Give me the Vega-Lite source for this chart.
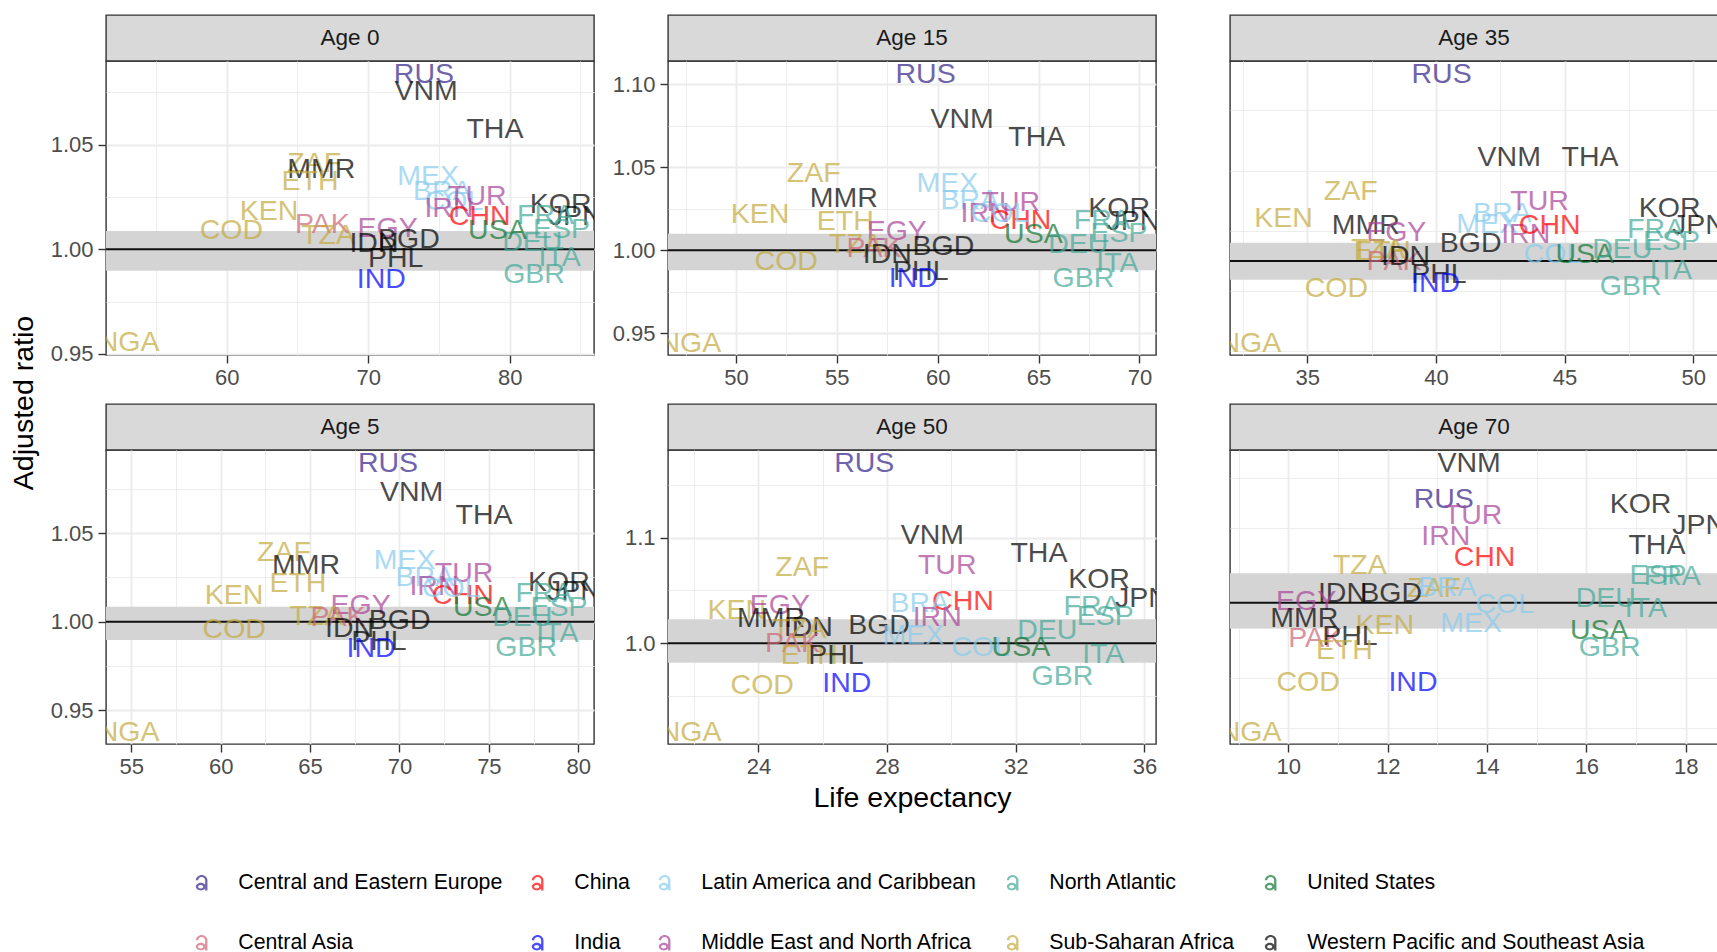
{
  "$schema": "https://vega.github.io/schema/vega-lite/v6.json",
  "padding": {"left": 9, "top": 14, "right": 0, "bottom": 0},
  "background": "white",
  "spacing": 6,
  "config": {
    "font": "Liberation Sans",
    "view": {"stroke": "#333333", "strokeWidth": 1.4},
    "axis": {"domain": false, "gridColor": "#ebebeb", "tickColor": "#333333", "tickWidth": 1.4, "tickSize": 8,
      "labelFont": "Liberation Sans", "labelFontSize": 22, "labelColor": "#4d4d4d",
      "titleFont": "Liberation Sans", "titleFontSize": 28.5, "titleColor": "#000000", "titleFontWeight": "normal",
      "labelOverlap": false, "labelFlush": false},
    "axisX": {"labelPadding": 4},
    "axisY": {"labelPadding": 5, "minExtent": 60, "maxExtent": 60}
  },
  "datasets": {
    "countries": [
      {"iso": "RUS", "region": "Central and Eastern Europe"},
      {"iso": "CHN", "region": "China"},
      {"iso": "MEX", "region": "Latin America and Caribbean"},
      {"iso": "BRA", "region": "Latin America and Caribbean"},
      {"iso": "COL", "region": "Latin America and Caribbean"},
      {"iso": "FRA", "region": "North Atlantic"},
      {"iso": "ESP", "region": "North Atlantic"},
      {"iso": "DEU", "region": "North Atlantic"},
      {"iso": "ITA", "region": "North Atlantic"},
      {"iso": "GBR", "region": "North Atlantic"},
      {"iso": "USA", "region": "United States"},
      {"iso": "PAK", "region": "Central Asia"},
      {"iso": "IND", "region": "India"},
      {"iso": "TUR", "region": "Middle East and North Africa"},
      {"iso": "IRN", "region": "Middle East and North Africa"},
      {"iso": "EGY", "region": "Middle East and North Africa"},
      {"iso": "ZAF", "region": "Sub-Saharan Africa"},
      {"iso": "ETH", "region": "Sub-Saharan Africa"},
      {"iso": "KEN", "region": "Sub-Saharan Africa"},
      {"iso": "COD", "region": "Sub-Saharan Africa"},
      {"iso": "TZA", "region": "Sub-Saharan Africa"},
      {"iso": "NGA", "region": "Sub-Saharan Africa"},
      {"iso": "VNM", "region": "Western Pacific and Southeast Asia"},
      {"iso": "THA", "region": "Western Pacific and Southeast Asia"},
      {"iso": "MMR", "region": "Western Pacific and Southeast Asia"},
      {"iso": "IDN", "region": "Western Pacific and Southeast Asia"},
      {"iso": "BGD", "region": "Western Pacific and Southeast Asia"},
      {"iso": "PHL", "region": "Western Pacific and Southeast Asia"},
      {"iso": "KOR", "region": "Western Pacific and Southeast Asia"},
      {"iso": "JPN", "region": "Western Pacific and Southeast Asia"}
    ],
    "bands": [
      {"age": "Age 0", "lo": 0.9898, "hi": 1.0087},
      {"age": "Age 15", "lo": 0.988, "hi": 1.010},
      {"age": "Age 35", "lo": 0.9845, "hi": 1.0152},
      {"age": "Age 5", "lo": 0.9897, "hi": 1.0085},
      {"age": "Age 50", "lo": 0.9816, "hi": 1.0227},
      {"age": "Age 70", "lo": 0.9744, "hi": 1.0294}
    ],
    "pts": [
      {"age": "Age 0", "iso": "RUS", "le": 73.94, "ratio": 1.084},
      {"age": "Age 0", "iso": "VNM", "le": 74.09, "ratio": 1.0759},
      {"age": "Age 0", "iso": "THA", "le": 78.96, "ratio": 1.0575},
      {"age": "Age 0", "iso": "ZAF", "le": 66.19, "ratio": 1.0413},
      {"age": "Age 0", "iso": "MMR", "le": 66.69, "ratio": 1.0384},
      {"age": "Age 0", "iso": "ETH", "le": 65.89, "ratio": 1.0325},
      {"age": "Age 0", "iso": "MEX", "le": 74.23, "ratio": 1.0352},
      {"age": "Age 0", "iso": "BRA", "le": 75.24, "ratio": 1.0281},
      {"age": "Age 0", "iso": "COL", "le": 76.06, "ratio": 1.0233},
      {"age": "Age 0", "iso": "TUR", "le": 77.71, "ratio": 1.0257},
      {"age": "Age 0", "iso": "IRN", "le": 75.71, "ratio": 1.0198},
      {"age": "Age 0", "iso": "CHN", "le": 77.88, "ratio": 1.0159},
      {"age": "Age 0", "iso": "KOR", "le": 83.6, "ratio": 1.0219},
      {"age": "Age 0", "iso": "JPN", "le": 84.66, "ratio": 1.0159},
      {"age": "Age 0", "iso": "FRA", "le": 82.54, "ratio": 1.0162},
      {"age": "Age 0", "iso": "ESP", "le": 83.67, "ratio": 1.0099},
      {"age": "Age 0", "iso": "DEU", "le": 81.6, "ratio": 1.0035},
      {"age": "Age 0", "iso": "ITA", "le": 83.53, "ratio": 0.9963},
      {"age": "Age 0", "iso": "GBR", "le": 81.72, "ratio": 0.9884},
      {"age": "Age 0", "iso": "USA", "le": 79.13, "ratio": 1.009},
      {"age": "Age 0", "iso": "KEN", "le": 62.99, "ratio": 1.0182},
      {"age": "Age 0", "iso": "PAK", "le": 66.76, "ratio": 1.0122},
      {"age": "Age 0", "iso": "TZA", "le": 67.16, "ratio": 1.0067},
      {"age": "Age 0", "iso": "COD", "le": 60.33, "ratio": 1.0092},
      {"age": "Age 0", "iso": "EGY", "le": 71.38, "ratio": 1.0103},
      {"age": "Age 0", "iso": "IDN", "le": 70.41, "ratio": 1.0032},
      {"age": "Age 0", "iso": "BGD", "le": 72.88, "ratio": 1.0048},
      {"age": "Age 0", "iso": "PHL", "le": 71.94, "ratio": 0.996},
      {"age": "Age 0", "iso": "IND", "le": 70.93, "ratio": 0.9857},
      {"age": "Age 0", "iso": "NGA", "le": 53.07, "ratio": 0.9556},

      {"age": "Age 15", "iso": "RUS", "le": 59.4, "ratio": 1.1059},
      {"age": "Age 15", "iso": "VNM", "le": 61.21, "ratio": 1.0788},
      {"age": "Age 15", "iso": "THA", "le": 64.91, "ratio": 1.068},
      {"age": "Age 15", "iso": "ZAF", "le": 53.85, "ratio": 1.0467},
      {"age": "Age 15", "iso": "MMR", "le": 55.34, "ratio": 1.0317},
      {"age": "Age 15", "iso": "KEN", "le": 51.19, "ratio": 1.0217},
      {"age": "Age 15", "iso": "ETH", "le": 55.42, "ratio": 1.0178},
      {"age": "Age 15", "iso": "MEX", "le": 60.48, "ratio": 1.0407},
      {"age": "Age 15", "iso": "BRA", "le": 61.59, "ratio": 1.0304},
      {"age": "Age 15", "iso": "TUR", "le": 63.62, "ratio": 1.0292},
      {"age": "Age 15", "iso": "IRN", "le": 62.35, "ratio": 1.0226},
      {"age": "Age 15", "iso": "CHN", "le": 64.1, "ratio": 1.0182},
      {"age": "Age 15", "iso": "COL", "le": 63.09, "ratio": 1.0224},
      {"age": "Age 15", "iso": "USA", "le": 64.74, "ratio": 1.0096},
      {"age": "Age 15", "iso": "KOR", "le": 68.99, "ratio": 1.0256},
      {"age": "Age 15", "iso": "JPN", "le": 69.7, "ratio": 1.0178},
      {"age": "Age 15", "iso": "FRA", "le": 68.16, "ratio": 1.0182},
      {"age": "Age 15", "iso": "ESP", "le": 68.99, "ratio": 1.0106},
      {"age": "Age 15", "iso": "DEU", "le": 66.97, "ratio": 1.0036},
      {"age": "Age 15", "iso": "ITA", "le": 68.91, "ratio": 0.9925},
      {"age": "Age 15", "iso": "GBR", "le": 67.22, "ratio": 0.9835},
      {"age": "Age 15", "iso": "EGY", "le": 57.97, "ratio": 1.0116},
      {"age": "Age 15", "iso": "TZA", "le": 55.93, "ratio": 1.0036},
      {"age": "Age 15", "iso": "PAK", "le": 56.84, "ratio": 1.0016},
      {"age": "Age 15", "iso": "IDN", "le": 57.5, "ratio": 0.9976},
      {"age": "Age 15", "iso": "BGD", "le": 60.28, "ratio": 1.0026},
      {"age": "Age 15", "iso": "PHL", "le": 59.16, "ratio": 0.9875},
      {"age": "Age 15", "iso": "IND", "le": 58.79, "ratio": 0.9835},
      {"age": "Age 15", "iso": "COD", "le": 52.49, "ratio": 0.9937},
      {"age": "Age 15", "iso": "NGA", "le": 47.74, "ratio": 0.944},

      {"age": "Age 35", "iso": "RUS", "le": 40.22, "ratio": 1.1551},
      {"age": "Age 35", "iso": "VNM", "le": 42.85, "ratio": 1.0861},
      {"age": "Age 35", "iso": "THA", "le": 45.99, "ratio": 1.0861},
      {"age": "Age 35", "iso": "ZAF", "le": 36.69, "ratio": 1.0581},
      {"age": "Age 35", "iso": "KEN", "le": 34.08, "ratio": 1.036},
      {"age": "Age 35", "iso": "MMR", "le": 37.28, "ratio": 1.0299},
      {"age": "Age 35", "iso": "EGY", "le": 38.46, "ratio": 1.0241},
      {"age": "Age 35", "iso": "TZA", "le": 37.75, "ratio": 1.0097},
      {"age": "Age 35", "iso": "ETH", "le": 37.92, "ratio": 1.0083},
      {"age": "Age 35", "iso": "PAK", "le": 38.37, "ratio": 1.0},
      {"age": "Age 35", "iso": "IDN", "le": 38.82, "ratio": 1.0042},
      {"age": "Age 35", "iso": "BGD", "le": 41.35, "ratio": 1.0152},
      {"age": "Age 35", "iso": "PHL", "le": 40.12, "ratio": 0.9889},
      {"age": "Age 35", "iso": "IND", "le": 39.99, "ratio": 0.982},
      {"age": "Age 35", "iso": "COD", "le": 36.13, "ratio": 0.9778},
      {"age": "Age 35", "iso": "BRA", "le": 42.58, "ratio": 1.0401},
      {"age": "Age 35", "iso": "MEX", "le": 41.99, "ratio": 1.0305},
      {"age": "Age 35", "iso": "TUR", "le": 44.03, "ratio": 1.0498},
      {"age": "Age 35", "iso": "IRN", "le": 43.49, "ratio": 1.0222},
      {"age": "Age 35", "iso": "CHN", "le": 44.42, "ratio": 1.0299},
      {"age": "Age 35", "iso": "COL", "le": 44.55, "ratio": 1.0055},
      {"age": "Age 35", "iso": "USA", "le": 45.78, "ratio": 1.0055},
      {"age": "Age 35", "iso": "DEU", "le": 47.24, "ratio": 1.0097},
      {"age": "Age 35", "iso": "KOR", "le": 49.08, "ratio": 1.0437},
      {"age": "Age 35", "iso": "JPN", "le": 50.22, "ratio": 1.0299},
      {"age": "Age 35", "iso": "FRA", "le": 48.54, "ratio": 1.0263},
      {"age": "Age 35", "iso": "ESP", "le": 49.15, "ratio": 1.0166},
      {"age": "Age 35", "iso": "ITA", "le": 49.13, "ratio": 0.9925},
      {"age": "Age 35", "iso": "GBR", "le": 47.57, "ratio": 0.9792},
      {"age": "Age 35", "iso": "NGA", "le": 32.79, "ratio": 0.9316},

      {"age": "Age 5", "iso": "RUS", "le": 69.36, "ratio": 1.0893},
      {"age": "Age 5", "iso": "VNM", "le": 70.68, "ratio": 1.0733},
      {"age": "Age 5", "iso": "THA", "le": 74.73, "ratio": 1.0601},
      {"age": "Age 5", "iso": "ZAF", "le": 63.54, "ratio": 1.0395},
      {"age": "Age 5", "iso": "MMR", "le": 64.77, "ratio": 1.032},
      {"age": "Age 5", "iso": "ETH", "le": 64.32, "ratio": 1.0216},
      {"age": "Age 5", "iso": "KEN", "le": 60.74, "ratio": 1.015},
      {"age": "Age 5", "iso": "MEX", "le": 70.29, "ratio": 1.0346},
      {"age": "Age 5", "iso": "BRA", "le": 71.41, "ratio": 1.0254},
      {"age": "Age 5", "iso": "TUR", "le": 73.61, "ratio": 1.0273},
      {"age": "Age 5", "iso": "IRN", "le": 71.93, "ratio": 1.02},
      {"age": "Age 5", "iso": "CHN", "le": 73.55, "ratio": 1.015},
      {"age": "Age 5", "iso": "COL", "le": 72.9, "ratio": 1.019},
      {"age": "Age 5", "iso": "USA", "le": 74.63, "ratio": 1.0085},
      {"age": "Age 5", "iso": "KOR", "le": 78.92, "ratio": 1.0225},
      {"age": "Age 5", "iso": "JPN", "le": 79.76, "ratio": 1.0175},
      {"age": "Age 5", "iso": "FRA", "le": 78.08, "ratio": 1.016},
      {"age": "Age 5", "iso": "ESP", "le": 78.92, "ratio": 1.0085},
      {"age": "Age 5", "iso": "DEU", "le": 76.87, "ratio": 1.0028},
      {"age": "Age 5", "iso": "ITA", "le": 78.83, "ratio": 0.9935},
      {"age": "Age 5", "iso": "GBR", "le": 77.09, "ratio": 0.9859},
      {"age": "Age 5", "iso": "EGY", "le": 67.83, "ratio": 1.0094},
      {"age": "Age 5", "iso": "TZA", "le": 65.35, "ratio": 1.0034},
      {"age": "Age 5", "iso": "PAK", "le": 66.56, "ratio": 1.0028},
      {"age": "Age 5", "iso": "IDN", "le": 67.21, "ratio": 0.9963},
      {"age": "Age 5", "iso": "BGD", "le": 70.01, "ratio": 1.001},
      {"age": "Age 5", "iso": "PHL", "le": 68.85, "ratio": 0.9893},
      {"age": "Age 5", "iso": "IND", "le": 68.41, "ratio": 0.985},
      {"age": "Age 5", "iso": "COD", "le": 60.76, "ratio": 0.9959},
      {"age": "Age 5", "iso": "NGA", "le": 54.85, "ratio": 0.938},

      {"age": "Age 50", "iso": "RUS", "le": 27.29, "ratio": 1.1705},
      {"age": "Age 50", "iso": "VNM", "le": 29.41, "ratio": 1.1023},
      {"age": "Age 50", "iso": "THA", "le": 32.72, "ratio": 1.0855},
      {"age": "Age 50", "iso": "TUR", "le": 29.87, "ratio": 1.0741},
      {"age": "Age 50", "iso": "KOR", "le": 34.59, "ratio": 1.0609},
      {"age": "Age 50", "iso": "JPN", "le": 35.92, "ratio": 1.0426},
      {"age": "Age 50", "iso": "ZAF", "le": 25.36, "ratio": 1.0725},
      {"age": "Age 50", "iso": "CHN", "le": 30.36, "ratio": 1.0403},
      {"age": "Age 50", "iso": "BRA", "le": 29.02, "ratio": 1.0379},
      {"age": "Age 50", "iso": "IRN", "le": 29.56, "ratio": 1.0252},
      {"age": "Age 50", "iso": "FRA", "le": 34.37, "ratio": 1.0353},
      {"age": "Age 50", "iso": "ESP", "le": 34.78, "ratio": 1.0259},
      {"age": "Age 50", "iso": "DEU", "le": 32.98, "ratio": 1.0126},
      {"age": "Age 50", "iso": "KEN", "le": 23.33, "ratio": 1.0315},
      {"age": "Age 50", "iso": "EGY", "le": 24.67, "ratio": 1.0363},
      {"age": "Age 50", "iso": "MMR", "le": 24.39, "ratio": 1.0237},
      {"age": "Age 50", "iso": "IDN", "le": 25.55, "ratio": 1.0157},
      {"age": "Age 50", "iso": "TZA", "le": 25.27, "ratio": 1.0135},
      {"age": "Age 50", "iso": "BGD", "le": 27.75, "ratio": 1.0173},
      {"age": "Age 50", "iso": "MEX", "le": 28.82, "ratio": 1.0079},
      {"age": "Age 50", "iso": "PAK", "le": 25.06, "ratio": 1.0},
      {"age": "Age 50", "iso": "ETH", "le": 25.58, "ratio": 0.9889},
      {"age": "Age 50", "iso": "PHL", "le": 26.41, "ratio": 0.9889},
      {"age": "Age 50", "iso": "IND", "le": 26.75, "ratio": 0.9621},
      {"age": "Age 50", "iso": "COD", "le": 24.12, "ratio": 0.9602},
      {"age": "Age 50", "iso": "COL", "le": 30.91, "ratio": 0.9962},
      {"age": "Age 50", "iso": "USA", "le": 32.16, "ratio": 0.9968},
      {"age": "Age 50", "iso": "ITA", "le": 34.72, "ratio": 0.9899},
      {"age": "Age 50", "iso": "GBR", "le": 33.45, "ratio": 0.9693},
      {"age": "Age 50", "iso": "NGA", "le": 21.89, "ratio": 0.9163},

      {"age": "Age 70", "iso": "VNM", "le": 13.64, "ratio": 1.1394},
      {"age": "Age 70", "iso": "RUS", "le": 13.13, "ratio": 1.1037},
      {"age": "Age 70", "iso": "TUR", "le": 13.72, "ratio": 1.0874},
      {"age": "Age 70", "iso": "IRN", "le": 13.17, "ratio": 1.0664},
      {"age": "Age 70", "iso": "CHN", "le": 13.95, "ratio": 1.046},
      {"age": "Age 70", "iso": "KOR", "le": 17.09, "ratio": 1.099},
      {"age": "Age 70", "iso": "JPN", "le": 18.27, "ratio": 1.0777},
      {"age": "Age 70", "iso": "THA", "le": 17.42, "ratio": 1.0577},
      {"age": "Age 70", "iso": "ESP", "le": 17.44, "ratio": 1.0277},
      {"age": "Age 70", "iso": "FRA", "le": 17.73, "ratio": 1.027},
      {"age": "Age 70", "iso": "DEU", "le": 16.39, "ratio": 1.0044},
      {"age": "Age 70", "iso": "ITA", "le": 17.2, "ratio": 0.9944},
      {"age": "Age 70", "iso": "USA", "le": 16.26, "ratio": 0.9727},
      {"age": "Age 70", "iso": "GBR", "le": 16.47, "ratio": 0.956},
      {"age": "Age 70", "iso": "TZA", "le": 11.44, "ratio": 1.0377},
      {"age": "Age 70", "iso": "ZAF", "le": 12.93, "ratio": 1.0144},
      {"age": "Age 70", "iso": "BRA", "le": 13.2, "ratio": 1.016},
      {"age": "Age 70", "iso": "IDN", "le": 11.09, "ratio": 1.0094},
      {"age": "Age 70", "iso": "BGD", "le": 12.07, "ratio": 1.0094},
      {"age": "Age 70", "iso": "EGY", "le": 10.36, "ratio": 1.0017},
      {"age": "Age 70", "iso": "COL", "le": 14.36, "ratio": 0.9987},
      {"age": "Age 70", "iso": "MMR", "le": 10.32, "ratio": 0.9843},
      {"age": "Age 70", "iso": "KEN", "le": 11.94, "ratio": 0.9777},
      {"age": "Age 70", "iso": "MEX", "le": 13.68, "ratio": 0.9793},
      {"age": "Age 70", "iso": "PAK", "le": 10.55, "ratio": 0.9643},
      {"age": "Age 70", "iso": "PHL", "le": 11.24, "ratio": 0.967},
      {"age": "Age 70", "iso": "ETH", "le": 11.13, "ratio": 0.9527},
      {"age": "Age 70", "iso": "COD", "le": 10.4, "ratio": 0.921},
      {"age": "Age 70", "iso": "IND", "le": 12.51, "ratio": 0.9204},
      {"age": "Age 70", "iso": "NGA", "le": 9.24, "ratio": 0.871}
    ]
  },
  "hconcat": [
    {"data": {"values": [{"t": "Adjusted ratio"}]}, "width": 30, "height": 776, "view": {"stroke": null},
     "mark": {"type": "text", "angle": 270, "fontSize": 28.5, "color": "#000000", "align": "center", "baseline": "middle"},
     "encoding": {"text": {"field": "t"}}},
    {"columns": 3, "spacing": {"row": 14, "column": 11},
     "concat": [
    {"vconcat": [
      {"data": {"values": [{"age": "Age 0"}]}, "width": 488, "height": 46,
       "view": {"fill": "#d9d9d9", "stroke": "#333333", "strokeWidth": 1.4},
       "mark": {"type": "text", "fontSize": 22.5, "color": "#1a1a1a", "baseline": "middle"},
       "encoding": {"text": {"field": "age"}}},
      {"width": 488, "height": 294, "layer": [
        {"data": {"name": "bands"}, "transform": [{"filter": "datum.age === 'Age 0'"}],
         "mark": {"type": "rect", "color": "#d4d4d4"},
         "encoding": {"y": {"field": "lo", "type": "quantitative", "scale": {"domain": [0.9495, 1.09], "nice": false, "zero": false}, "axis": {"title": null}}, "y2": {"field": "hi"}}},
        {"data": {"name": "bands"}, "transform": [{"filter": "datum.age === 'Age 0'"}],
         "mark": {"type": "rule", "color": "#111111", "strokeWidth": 2},
         "encoding": {"y": {"datum": 1, "type": "quantitative", "scale": {"domain": [0.9495, 1.09], "nice": false, "zero": false}, "axis": {"title": null}}}},
        {"data": {"name": "pts"}, "transform": [{"filter": "datum.age === 'Age 0'"}, {"lookup": "iso", "from": {"data": {"name": "countries"}, "key": "iso", "fields": ["region"]}}],
         "mark": {"type": "text", "fontSize": 28.5, "opacity": 0.7, "clip": true, "align": "center", "baseline": "middle"},
         "encoding": {
          "x": {"field": "le", "type": "quantitative", "scale": {"domain": [51.47, 85.96], "nice": false, "zero": false},
            "axis": {"title": null, "values": [55, 60, 65, 70, 75, 80, 85],
              "labelExpr": "indexof([60,70,80], datum.value) >= 0 ? datum.label : ''",
              "gridWidth": {"condition": {"test": "indexof([60,70,80], datum.value) >= 0", "value": 1.8}, "value": 0.9},
              "tickOpacity": {"condition": {"test": "indexof([60,70,80], datum.value) >= 0", "value": 1}, "value": 0}}},
          "y": {"field": "ratio", "type": "quantitative", "scale": {"domain": [0.9495, 1.09], "nice": false, "zero": false},
            "axis": {"title": null, "format": ".2f",
              "values": [0.95, 0.975, 1, 1.025, 1.05, 1.075],
              "labelExpr": "indexof([0.95,1,1.05], datum.value) >= 0 ? datum.label : ''",
              "gridWidth": {"condition": {"test": "indexof([0.95,1,1.05], datum.value) >= 0", "value": 1.8}, "value": 0.9},
              "tickOpacity": {"condition": {"test": "indexof([0.95,1,1.05], datum.value) >= 0", "value": 1}, "value": 0}}},
          "text": {"field": "iso"},
          "color": {"field": "region", "type": "nominal",
            "scale": {"domain": ["Central and Eastern Europe", "China", "Latin America and Caribbean", "North Atlantic", "United States", "Central Asia", "India", "Middle East and North Africa", "Sub-Saharan Africa", "Western Pacific and Southeast Asia"],
              "range": ["#332288", "#ff0000", "#88ccee", "#44aa99", "#117733", "#cc6677", "#0000ff", "#aa4499", "#c4ab3e", "#000000"]},
            "legend": {"title": null, "orient": "none", "legendX": 182, "legendY": 857, "direction": "horizontal", "columns": 5,
              "symbolType": "M-0.75,-0.3A0.75,0.7 0 0 1 0.75,-0.3L0.45,-0.3A0.45,0.42 0 0 0 -0.45,-0.3Z M0.45,-0.35L0.75,-0.35L0.75,1L0.45,1Z M-0.75,0.5A0.65,0.5 0 1 1 0.55,0.5A0.65,0.5 0 1 1 -0.75,0.5Z M-0.45,0.52A0.325,0.22 0 1 0 0.2,0.52A0.325,0.22 0 1 0 -0.45,0.52Z",
              "symbolSize": 240, "symbolStrokeWidth": 0, "labelFont": "Liberation Sans", "labelFontSize": 21.3, "labelColor": "#000000",
              "labelOffset": 26, "columnPadding": 24, "rowPadding": 38, "labelLimit": 400, "padding": 0}}
         }}
      ]}
    ], "spacing": 0, "bounds": "flush"},

    {"vconcat": [
      {"data": {"values": [{"age": "Age 15"}]}, "width": 488, "height": 46,
       "view": {"fill": "#d9d9d9", "stroke": "#333333", "strokeWidth": 1.4},
       "mark": {"type": "text", "fontSize": 22.5, "color": "#1a1a1a", "baseline": "middle"},
       "encoding": {"text": {"field": "age"}}},
      {"width": 488, "height": 294, "layer": [
        {"data": {"name": "bands"}, "transform": [{"filter": "datum.age === 'Age 15'"}],
         "mark": {"type": "rect", "color": "#d4d4d4"},
         "encoding": {"y": {"field": "lo", "type": "quantitative", "scale": {"domain": [0.937, 1.1139], "nice": false, "zero": false}, "axis": {"title": null}}, "y2": {"field": "hi"}}},
        {"data": {"name": "bands"}, "transform": [{"filter": "datum.age === 'Age 15'"}],
         "mark": {"type": "rule", "color": "#111111", "strokeWidth": 2},
         "encoding": {"y": {"datum": 1, "type": "quantitative", "scale": {"domain": [0.937, 1.1139], "nice": false, "zero": false}, "axis": {"title": null}}}},
        {"data": {"name": "pts"}, "transform": [{"filter": "datum.age === 'Age 15'"}, {"lookup": "iso", "from": {"data": {"name": "countries"}, "key": "iso", "fields": ["region"]}}],
         "mark": {"type": "text", "fontSize": 28.5, "opacity": 0.7, "clip": true, "align": "center", "baseline": "middle"},
         "encoding": {
          "x": {"field": "le", "type": "quantitative", "scale": {"domain": [46.63, 70.82], "nice": false, "zero": false},
            "axis": {"title": null, "values": [47.5, 50, 52.5, 55, 57.5, 60, 62.5, 65, 67.5, 70],
              "labelExpr": "indexof([50,55,60,65,70], datum.value) >= 0 ? datum.label : ''",
              "gridWidth": {"condition": {"test": "indexof([50,55,60,65,70], datum.value) >= 0", "value": 1.8}, "value": 0.9},
              "tickOpacity": {"condition": {"test": "indexof([50,55,60,65,70], datum.value) >= 0", "value": 1}, "value": 0}}},
          "y": {"field": "ratio", "type": "quantitative", "scale": {"domain": [0.937, 1.1139], "nice": false, "zero": false},
            "axis": {"title": null, "format": ".2f",
              "values": [0.95, 0.975, 1, 1.025, 1.05, 1.075, 1.1],
              "labelExpr": "indexof([0.95,1,1.05,1.1], datum.value) >= 0 ? datum.label : ''",
              "gridWidth": {"condition": {"test": "indexof([0.95,1,1.05,1.1], datum.value) >= 0", "value": 1.8}, "value": 0.9},
              "tickOpacity": {"condition": {"test": "indexof([0.95,1,1.05,1.1], datum.value) >= 0", "value": 1}, "value": 0}}},
          "text": {"field": "iso"},
          "color": {"field": "region", "type": "nominal",
            "scale": {"domain": ["Central and Eastern Europe", "China", "Latin America and Caribbean", "North Atlantic", "United States", "Central Asia", "India", "Middle East and North Africa", "Sub-Saharan Africa", "Western Pacific and Southeast Asia"],
              "range": ["#332288", "#ff0000", "#88ccee", "#44aa99", "#117733", "#cc6677", "#0000ff", "#aa4499", "#c4ab3e", "#000000"]}}
         }}
      ]}
    ], "spacing": 0, "bounds": "flush"},

    {"vconcat": [
      {"data": {"values": [{"age": "Age 35"}]}, "width": 488, "height": 46,
       "view": {"fill": "#d9d9d9", "stroke": "#333333", "strokeWidth": 1.4},
       "mark": {"type": "text", "fontSize": 22.5, "color": "#1a1a1a", "baseline": "middle"},
       "encoding": {"text": {"field": "age"}}},
      {"width": 488, "height": 294, "layer": [
        {"data": {"name": "bands"}, "transform": [{"filter": "datum.age === 'Age 35'"}],
         "mark": {"type": "rect", "color": "#d4d4d4"},
         "encoding": {"y": {"field": "lo", "type": "quantitative", "scale": {"domain": [0.9219, 1.1661], "nice": false, "zero": false}, "axis": {"title": null}}, "y2": {"field": "hi"}}},
        {"data": {"name": "bands"}, "transform": [{"filter": "datum.age === 'Age 35'"}],
         "mark": {"type": "rule", "color": "#111111", "strokeWidth": 2},
         "encoding": {"y": {"datum": 1, "type": "quantitative", "scale": {"domain": [0.9219, 1.1661], "nice": false, "zero": false}, "axis": {"title": null}}}},
        {"data": {"name": "pts"}, "transform": [{"filter": "datum.age === 'Age 35'"}, {"lookup": "iso", "from": {"data": {"name": "countries"}, "key": "iso", "fields": ["region"]}}],
         "mark": {"type": "text", "fontSize": 28.5, "opacity": 0.7, "clip": true, "align": "center", "baseline": "middle"},
         "encoding": {
          "x": {"field": "le", "type": "quantitative", "scale": {"domain": [32.0, 50.96], "nice": false, "zero": false},
            "axis": {"title": null, "values": [32.5, 35, 37.5, 40, 42.5, 45, 47.5, 50],
              "labelExpr": "indexof([35,40,45,50], datum.value) >= 0 ? datum.label : ''",
              "gridWidth": {"condition": {"test": "indexof([35,40,45,50], datum.value) >= 0", "value": 1.8}, "value": 0.9},
              "tickOpacity": {"condition": {"test": "indexof([35,40,45,50], datum.value) >= 0", "value": 1}, "value": 0}}},
          "y": {"field": "ratio", "type": "quantitative", "scale": {"domain": [0.9219, 1.1661], "nice": false, "zero": false},
            "axis": {"title": null, "format": ".2f",
              "values": [0.925, 0.95, 0.975, 1, 1.025, 1.05, 1.075, 1.1, 1.125, 1.15],
              "labelExpr": "indexof([0.95,1,1.05,1.1,1.15], datum.value) >= 0 ? datum.label : ''",
              "gridWidth": {"condition": {"test": "indexof([0.95,1,1.05,1.1,1.15], datum.value) >= 0", "value": 1.8}, "value": 0.9},
              "tickOpacity": {"condition": {"test": "indexof([0.95,1,1.05,1.1,1.15], datum.value) >= 0", "value": 1}, "value": 0}}},
          "text": {"field": "iso"},
          "color": {"field": "region", "type": "nominal",
            "scale": {"domain": ["Central and Eastern Europe", "China", "Latin America and Caribbean", "North Atlantic", "United States", "Central Asia", "India", "Middle East and North Africa", "Sub-Saharan Africa", "Western Pacific and Southeast Asia"],
              "range": ["#332288", "#ff0000", "#88ccee", "#44aa99", "#117733", "#cc6677", "#0000ff", "#aa4499", "#c4ab3e", "#000000"]}}
         }}
      ]}
    ], "spacing": 0, "bounds": "flush"},

    {"vconcat": [
      {"data": {"values": [{"age": "Age 5"}]}, "width": 488, "height": 46,
       "view": {"fill": "#d9d9d9", "stroke": "#333333", "strokeWidth": 1.4},
       "mark": {"type": "text", "fontSize": 22.5, "color": "#1a1a1a", "baseline": "middle"},
       "encoding": {"text": {"field": "age"}}},
      {"width": 488, "height": 294, "layer": [
        {"data": {"name": "bands"}, "transform": [{"filter": "datum.age === 'Age 5'"}],
         "mark": {"type": "rect", "color": "#d4d4d4"},
         "encoding": {"y": {"field": "lo", "type": "quantitative", "scale": {"domain": [0.9311, 1.0968], "nice": false, "zero": false}, "axis": {"title": null}}, "y2": {"field": "hi"}}},
        {"data": {"name": "bands"}, "transform": [{"filter": "datum.age === 'Age 5'"}],
         "mark": {"type": "rule", "color": "#111111", "strokeWidth": 2},
         "encoding": {"y": {"datum": 1, "type": "quantitative", "scale": {"domain": [0.9311, 1.0968], "nice": false, "zero": false}, "axis": {"title": null}}}},
        {"data": {"name": "pts"}, "transform": [{"filter": "datum.age === 'Age 5'"}, {"lookup": "iso", "from": {"data": {"name": "countries"}, "key": "iso", "fields": ["region"]}}],
         "mark": {"type": "text", "fontSize": 28.5, "opacity": 0.7, "clip": true, "align": "center", "baseline": "middle"},
         "encoding": {
          "x": {"field": "le", "type": "quantitative", "scale": {"domain": [53.585, 80.88], "nice": false, "zero": false},
            "axis": {"title": null, "values": [55, 57.5, 60, 62.5, 65, 67.5, 70, 72.5, 75, 77.5, 80],
              "labelExpr": "indexof([55,60,65,70,75,80], datum.value) >= 0 ? datum.label : ''",
              "gridWidth": {"condition": {"test": "indexof([55,60,65,70,75,80], datum.value) >= 0", "value": 1.8}, "value": 0.9},
              "tickOpacity": {"condition": {"test": "indexof([55,60,65,70,75,80], datum.value) >= 0", "value": 1}, "value": 0}}},
          "y": {"field": "ratio", "type": "quantitative", "scale": {"domain": [0.9311, 1.0968], "nice": false, "zero": false},
            "axis": {"title": null, "format": ".2f",
              "values": [0.95, 0.975, 1, 1.025, 1.05, 1.075],
              "labelExpr": "indexof([0.95,1,1.05], datum.value) >= 0 ? datum.label : ''",
              "gridWidth": {"condition": {"test": "indexof([0.95,1,1.05], datum.value) >= 0", "value": 1.8}, "value": 0.9},
              "tickOpacity": {"condition": {"test": "indexof([0.95,1,1.05], datum.value) >= 0", "value": 1}, "value": 0}}},
          "text": {"field": "iso"},
          "color": {"field": "region", "type": "nominal",
            "scale": {"domain": ["Central and Eastern Europe", "China", "Latin America and Caribbean", "North Atlantic", "United States", "Central Asia", "India", "Middle East and North Africa", "Sub-Saharan Africa", "Western Pacific and Southeast Asia"],
              "range": ["#332288", "#ff0000", "#88ccee", "#44aa99", "#117733", "#cc6677", "#0000ff", "#aa4499", "#c4ab3e", "#000000"]}}
         }}
      ]}
    ], "spacing": 0, "bounds": "flush"},

    {"vconcat": [
      {"data": {"values": [{"age": "Age 50"}]}, "width": 488, "height": 46,
       "view": {"fill": "#d9d9d9", "stroke": "#333333", "strokeWidth": 1.4},
       "mark": {"type": "text", "fontSize": 22.5, "color": "#1a1a1a", "baseline": "middle"},
       "encoding": {"text": {"field": "age"}}},
      {"width": 488, "height": 294, "layer": [
        {"data": {"name": "bands"}, "transform": [{"filter": "datum.age === 'Age 50'"}],
         "mark": {"type": "rect", "color": "#d4d4d4"},
         "encoding": {"y": {"field": "lo", "type": "quantitative", "scale": {"domain": [0.9046, 1.183], "nice": false, "zero": false}, "axis": {"title": null}}, "y2": {"field": "hi"}}},
        {"data": {"name": "bands"}, "transform": [{"filter": "datum.age === 'Age 50'"}],
         "mark": {"type": "rule", "color": "#111111", "strokeWidth": 2},
         "encoding": {"y": {"datum": 1, "type": "quantitative", "scale": {"domain": [0.9046, 1.183], "nice": false, "zero": false}, "axis": {"title": null}}}},
        {"data": {"name": "pts"}, "transform": [{"filter": "datum.age === 'Age 50'"}, {"lookup": "iso", "from": {"data": {"name": "countries"}, "key": "iso", "fields": ["region"]}}],
         "mark": {"type": "text", "fontSize": 28.5, "opacity": 0.7, "clip": true, "align": "center", "baseline": "middle"},
         "encoding": {
          "x": {"field": "le", "type": "quantitative", "scale": {"domain": [21.19, 36.36], "nice": false, "zero": false},
            "axis": {"title": "Life expectancy", "titleY": 53, "titleBaseline": "middle", "values": [22, 24, 26, 28, 30, 32, 34, 36],
              "labelExpr": "indexof([24,28,32,36], datum.value) >= 0 ? datum.label : ''",
              "gridWidth": {"condition": {"test": "indexof([24,28,32,36], datum.value) >= 0", "value": 1.8}, "value": 0.9},
              "tickOpacity": {"condition": {"test": "indexof([24,28,32,36], datum.value) >= 0", "value": 1}, "value": 0}}},
          "y": {"field": "ratio", "type": "quantitative", "scale": {"domain": [0.9046, 1.183], "nice": false, "zero": false},
            "axis": {"title": null, "format": ".1f",
              "values": [0.95, 1, 1.05, 1.1, 1.15],
              "labelExpr": "indexof([1,1.1], datum.value) >= 0 ? datum.label : ''",
              "gridWidth": {"condition": {"test": "indexof([1,1.1], datum.value) >= 0", "value": 1.8}, "value": 0.9},
              "tickOpacity": {"condition": {"test": "indexof([1,1.1], datum.value) >= 0", "value": 1}, "value": 0}}},
          "text": {"field": "iso"},
          "color": {"field": "region", "type": "nominal",
            "scale": {"domain": ["Central and Eastern Europe", "China", "Latin America and Caribbean", "North Atlantic", "United States", "Central Asia", "India", "Middle East and North Africa", "Sub-Saharan Africa", "Western Pacific and Southeast Asia"],
              "range": ["#332288", "#ff0000", "#88ccee", "#44aa99", "#117733", "#cc6677", "#0000ff", "#aa4499", "#c4ab3e", "#000000"]}}
         }}
      ]}
    ], "spacing": 0, "bounds": "flush"},

    {"vconcat": [
      {"data": {"values": [{"age": "Age 70"}]}, "width": 488, "height": 46,
       "view": {"fill": "#d9d9d9", "stroke": "#333333", "strokeWidth": 1.4},
       "mark": {"type": "text", "fontSize": 22.5, "color": "#1a1a1a", "baseline": "middle"},
       "encoding": {"text": {"field": "age"}}},
      {"width": 488, "height": 294, "layer": [
        {"data": {"name": "bands"}, "transform": [{"filter": "datum.age === 'Age 70'"}],
         "mark": {"type": "rect", "color": "#d4d4d4"},
         "encoding": {"y": {"field": "lo", "type": "quantitative", "scale": {"domain": [0.8587, 1.1527], "nice": false, "zero": false}, "axis": {"title": null}}, "y2": {"field": "hi"}}},
        {"data": {"name": "bands"}, "transform": [{"filter": "datum.age === 'Age 70'"}],
         "mark": {"type": "rule", "color": "#111111", "strokeWidth": 2},
         "encoding": {"y": {"datum": 1, "type": "quantitative", "scale": {"domain": [0.8587, 1.1527], "nice": false, "zero": false}, "axis": {"title": null}}}},
        {"data": {"name": "pts"}, "transform": [{"filter": "datum.age === 'Age 70'"}, {"lookup": "iso", "from": {"data": {"name": "countries"}, "key": "iso", "fields": ["region"]}}],
         "mark": {"type": "text", "fontSize": 28.5, "opacity": 0.7, "clip": true, "align": "center", "baseline": "middle"},
         "encoding": {
          "x": {"field": "le", "type": "quantitative", "scale": {"domain": [8.826, 18.65], "nice": false, "zero": false},
            "axis": {"title": null, "values": [9, 10, 11, 12, 13, 14, 15, 16, 17, 18],
              "labelExpr": "indexof([10,12,14,16,18], datum.value) >= 0 ? datum.label : ''",
              "gridWidth": {"condition": {"test": "indexof([10,12,14,16,18], datum.value) >= 0", "value": 1.8}, "value": 0.9},
              "tickOpacity": {"condition": {"test": "indexof([10,12,14,16,18], datum.value) >= 0", "value": 1}, "value": 0}}},
          "y": {"field": "ratio", "type": "quantitative", "scale": {"domain": [0.8587, 1.1527], "nice": false, "zero": false},
            "axis": {"title": null, "format": ".2f",
              "values": [0.875, 0.9, 0.925, 0.95, 0.975, 1, 1.025, 1.05, 1.075, 1.1, 1.125, 1.15],
              "labelExpr": "indexof([0.9,0.95,1,1.05,1.1,1.15], datum.value) >= 0 ? datum.label : ''",
              "gridWidth": {"condition": {"test": "indexof([0.9,0.95,1,1.05,1.1,1.15], datum.value) >= 0", "value": 1.8}, "value": 0.9},
              "tickOpacity": {"condition": {"test": "indexof([0.9,0.95,1,1.05,1.1,1.15], datum.value) >= 0", "value": 1}, "value": 0}}},
          "text": {"field": "iso"},
          "color": {"field": "region", "type": "nominal",
            "scale": {"domain": ["Central and Eastern Europe", "China", "Latin America and Caribbean", "North Atlantic", "United States", "Central Asia", "India", "Middle East and North Africa", "Sub-Saharan Africa", "Western Pacific and Southeast Asia"],
              "range": ["#332288", "#ff0000", "#88ccee", "#44aa99", "#117733", "#cc6677", "#0000ff", "#aa4499", "#c4ab3e", "#000000"]}}
         }}
      ]}
    ], "spacing": 0, "bounds": "flush"}
     ]}
  ]
}
